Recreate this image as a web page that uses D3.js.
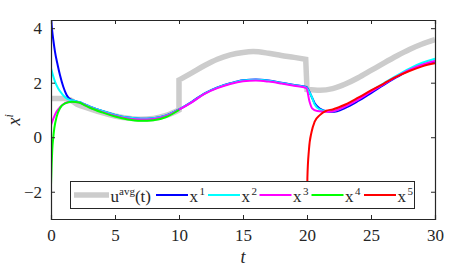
<!DOCTYPE html>
<html>
<head>
<meta charset="utf-8">
<title>x^i vs t</title>
<style>
  body { margin: 0; background: #fff; }
</style>
</head>
<body>
<script src="https://cdnjs.cloudflare.com/ajax/libs/d3/7.8.5/d3.min.js"></script>
<script>
// values, [t, value]
var uavg = [
  [[0,1.42],[1,1.42],[1.5,1.37],[2,1.22],[3,1.05],[4,0.9],[5,0.78],[6,0.7],[7,0.66],[8,0.69],[9,0.8],[10,1.0]],
  [[10,2.1],[11,2.36],[12,2.63],[13,2.86],[14,3.02],[15,3.11],[15.8,3.14],[17,3.08],[18,3.0],[19,2.93],[19.9,2.86]],
  [[20,1.75],[21,1.72],[22,1.78],[23,1.95],[24,2.18],[25,2.45],[26,2.72],[27,2.98],[28,3.22],[29,3.42],[30,3.58]]
];
var x1 = [[0,4.4],[0.1,3.87],[0.18,3.57],[0.31,3.14],[0.52,2.65],[0.7,2.28],[0.96,1.85],[1.22,1.55],[1.48,1.4],[1.8,1.34],
  [2.2,1.29],[2.6,1.21],[3,1.13],[4,0.96],[5,0.82],[6,0.72],[7,0.68],[8,0.7],[9,0.8],[10,1.02],
  [11,1.3],[12,1.61],[13,1.83],[14,1.98],[15,2.09],[16,2.12],[17,2.08],[18,2.0],[19,1.92],[19.95,1.84],
  [20.3,1.55],[20.6,1.25],[21,1.05],[21.5,0.95],[22,0.93],[23,1.08],[24,1.33],[25,1.62],[26,1.92],[27,2.2],[28,2.46],[29,2.65],[30,2.78]];
var x2 = [[0,2.53],[0.31,2.04],[0.55,1.8],[0.83,1.61],[1.1,1.47],[1.4,1.38],[1.8,1.34],
  [2.2,1.29],[2.6,1.21],[3,1.13],[4,0.96],[5,0.82],[6,0.72],[7,0.68],[8,0.7],[9,0.8],[10,1.02],
  [11,1.29],[12,1.6],[13,1.82],[14,1.97],[15,2.08],[16,2.11],[17,2.07],[18,1.99],[19,1.91],[19.95,1.83],
  [20.1,1.72],[20.4,1.45],[20.6,1.2],[21,1.02],[21.5,0.96],[22,0.96],[23,1.14],[24,1.4],[25,1.7],[26,1.98],[27,2.26],[28,2.52],[29,2.73],[30,2.88]];
var x3 = [[0,0.45],[0.2,0.7],[0.44,0.94],[0.7,1.1],[0.96,1.21],[1.3,1.28],[1.75,1.3],
  [2.2,1.27],[2.6,1.19],[3,1.1],[4,0.93],[5,0.79],[6,0.69],[7,0.65],[8,0.67],[9,0.78],[10,1.01],
  [11,1.28],[12,1.59],[13,1.8],[14,1.95],[15,2.05],[16,2.08],[17,2.04],[18,1.97],[19,1.89],[19.95,1.8],
  [20.2,1.3],[20.4,1.06],[20.8,0.96],[21.5,0.93],[22,0.95],[23,1.13],[24,1.38],[25,1.67],[26,1.95],[27,2.22],[28,2.47],[29,2.66],[30,2.8]];
var x4 = [[0,-1.75],[0.05,-1.0],[0.1,-0.45],[0.18,0.0],[0.26,0.33],[0.44,0.75],[0.7,1.06],[1.09,1.24],[1.61,1.3],
  [2.2,1.27],[2.6,1.18],[3,1.09],[4,0.91],[5,0.76],[6,0.65],[7,0.6],[8,0.62],[9,0.74],[10,1.0]];
var x5 = [[20,-2.5],[20.03,-1.5],[20.15,-0.47],[20.36,0.2],[20.6,0.57],[21,0.81],[21.5,0.97],[22,1.02],
  [23,1.2],[24,1.45],[25,1.72],[26,1.97],[27,2.22],[28,2.43],[29,2.6],[30,2.71]];

var xTicks = [0,5,10,15,20,25,30];
var yTicks = [-2,0,2,4];

var W = 468, H = 267;
var FONT = '"Liberation Serif", "Times New Roman", serif';
var svg = d3.select('body').append('svg').attr('width', W).attr('height', H);

var x = d3.scaleLinear().domain([0,30]).range([51,435]);
var y = d3.scaleLinear().domain([-3,4.3]).range([219,20]);

svg.append('clipPath').attr('id','clip').append('rect')
  .attr('x',51).attr('y',20).attr('width',384).attr('height',199);

var plot = svg.append('g').attr('clip-path','url(#clip)');

var line = d3.line().x(function(d){return x(d[0])}).y(function(d){return y(d[1])})
  .curve(d3.curveMonotoneX);

// gray average line: smooth pieces joined by vertical jumps
var gd = uavg.map(function(s,i){ var p = line(s); return i ? p.replace(/^M/,'L') : p; }).join('');
plot.append('path').attr('d', gd).attr('fill','none')
  .attr('stroke','#cccccc').attr('stroke-width',5.5);

var series = [
  {data:x1, color:'#0000ff'},
  {data:x2, color:'#00ffff'},
  {data:x3, color:'#ff00ff'},
  {data:x4, color:'#00ff00'},
  {data:x5, color:'#ff0000'}
];
series.forEach(function(s){
  plot.append('path').attr('d', line(s.data)).attr('fill','none')
    .attr('stroke', s.color).attr('stroke-width',2);
});

// axes, ticks inward on all four sides
var fs = 17;
svg.append('g').attr('transform','translate(0,219)')
  .call(d3.axisBottom(x).tickValues(xTicks).tickSize(-4).tickPadding(10));
svg.append('g').attr('transform','translate(0,20)')
  .call(d3.axisTop(x).tickValues(xTicks).tickSize(-4).tickFormat(''));
svg.append('g').attr('transform','translate(51,0)')
  .call(d3.axisLeft(y).tickValues(yTicks).tickSize(-4).tickPadding(9));
svg.append('g').attr('transform','translate(435,0)')
  .call(d3.axisRight(y).tickValues(yTicks).tickSize(-4).tickFormat(''));

svg.selectAll('.domain').attr('stroke','#262626').attr('stroke-width',1.2);
svg.selectAll('.tick line').attr('stroke','#262626');
svg.selectAll('.tick text').attr('font-size',fs).attr('fill','#262626');

// axis titles
svg.append('text').attr('x',x(15)).attr('y',263).attr('text-anchor','middle')
  .attr('font-size',18).attr('font-style','italic').text('t');
var yl = svg.append('text').attr('transform','translate(20,'+y(0.64)+') rotate(-90)')
  .attr('text-anchor','middle').attr('font-size',18).attr('font-style','italic');
yl.append('tspan').text('x');
yl.append('tspan').attr('dy',-7).attr('font-size',12).text('i');

// legend
var lg = svg.append('g');
lg.append('rect').attr('x',70.5).attr('y',181.5).attr('width',344).attr('height',27)
  .attr('fill','#fff').attr('stroke','#262626').attr('stroke-width',1);

var items = [
  {base:'u', sup:'avg', tail:'(t)', color:'#cccccc', w:5.5, x0:74, len:35},
  {base:'x', sup:'1', color:'#0000ff', w:2, x0:156, len:32},
  {base:'x', sup:'2', color:'#00ffff', w:2, x0:208, len:32},
  {base:'x', sup:'3', color:'#ff00ff', w:2, x0:259.5, len:32},
  {base:'x', sup:'4', color:'#00ff00', w:2, x0:311.5, len:32},
  {base:'x', sup:'5', color:'#ff0000', w:2, x0:364, len:32}
];
var ly = 195, base = 201.5;
items.forEach(function(it){
  lg.append('line').attr('x1',it.x0).attr('x2',it.x0+it.len).attr('y1',ly).attr('y2',ly)
    .attr('stroke',it.color).attr('stroke-width',it.w);
  var t = lg.append('text').attr('x',it.x0+it.len+1.5).attr('y',base).attr('font-size',fs);
  t.append('tspan').text(it.base);
  t.append('tspan').attr('dy',-7).attr('dx',it.tail ? 0 : 1.5).attr('font-size',11).text(it.sup);
  if (it.tail) t.append('tspan').attr('dy',7).text(it.tail);
});

svg.selectAll('text').style('font-family', FONT).style('fill', '#262626');
</script>
</body>
</html>
